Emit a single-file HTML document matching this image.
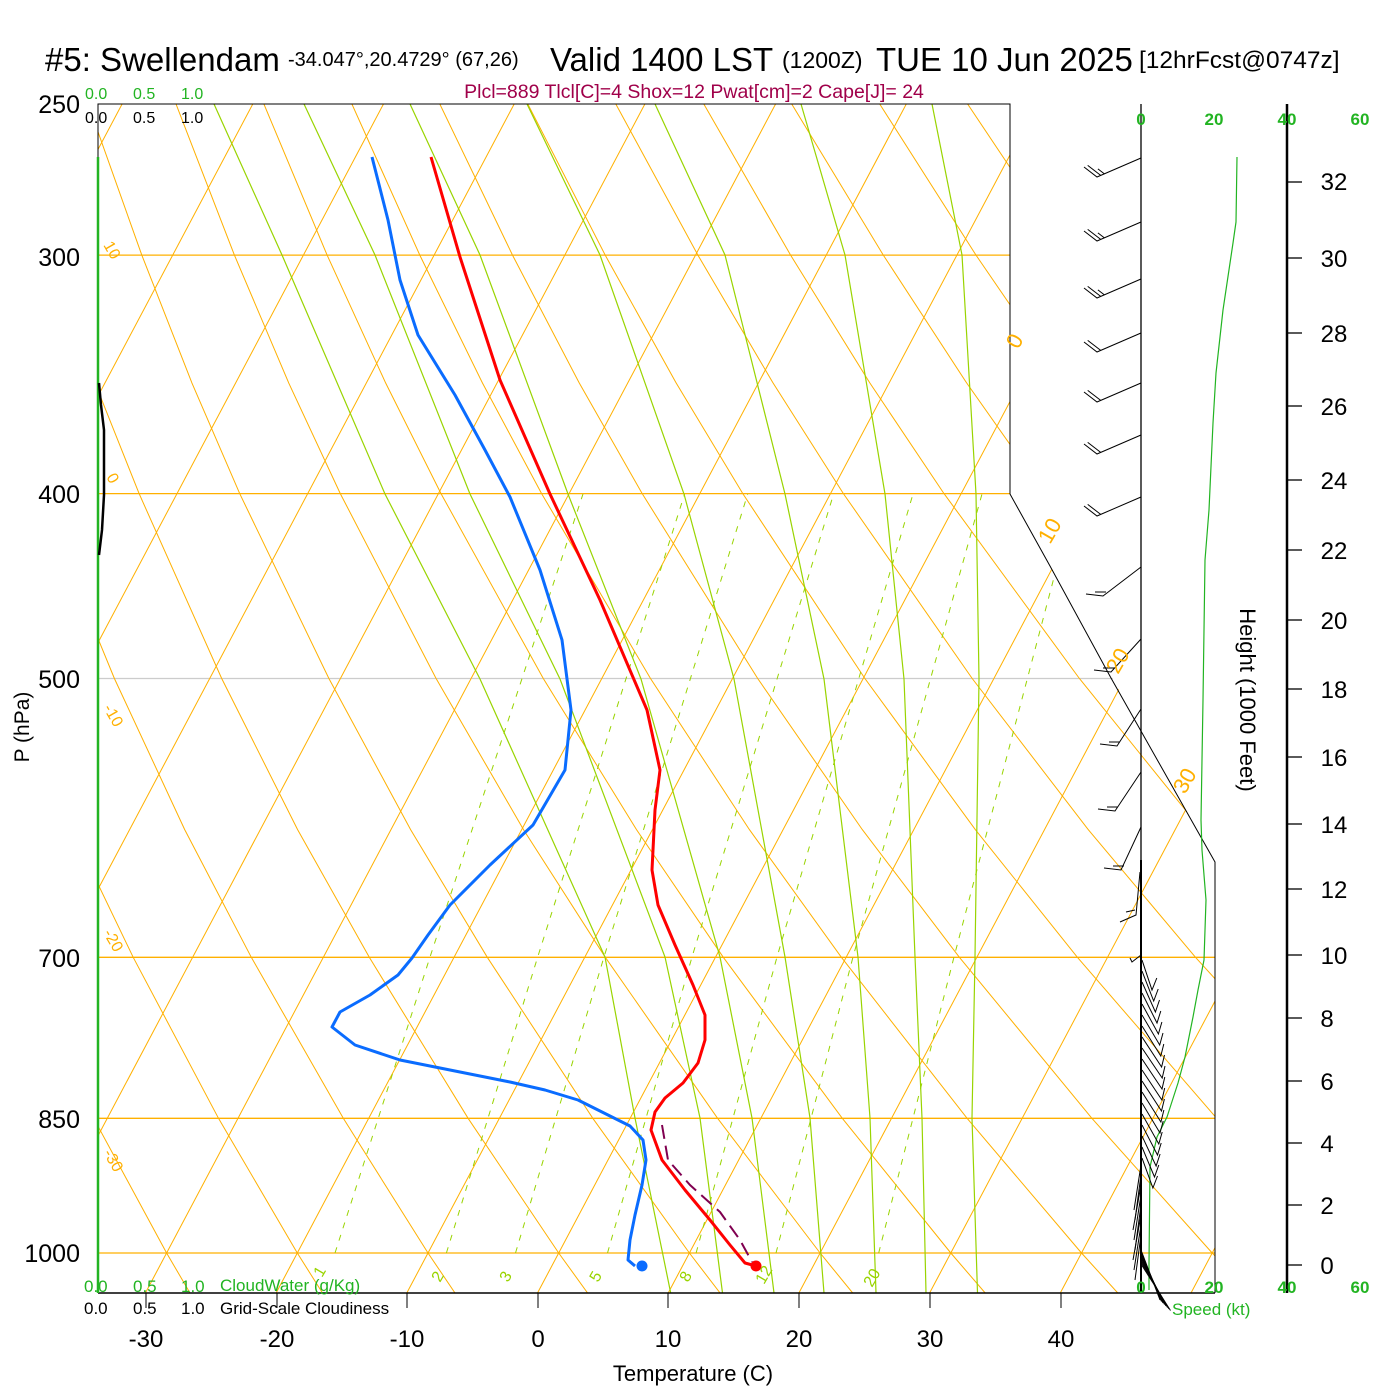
<!DOCTYPE html>
<html><head><meta charset="utf-8"><style>
html,body{margin:0;padding:0;background:#fff;}
svg{display:block;font-family:"Liberation Sans",sans-serif;}
</style></head><body>
<svg width="1400" height="1400" viewBox="0 0 1400 1400" xmlns="http://www.w3.org/2000/svg">
<defs>
<clipPath id="cp"><polygon points="98,104 1010,104 1010,494 1215,862 1215,1293 98,1293"/></clipPath>
<clipPath id="cpm"><polygon points="98,494 1010,494 1215,862 1215,1254 98,1254"/></clipPath>
</defs>
<g clip-path="url(#cp)" fill="none">
<g stroke-width="1.3">
<line x1="98" y1="255.1" x2="1215" y2="255.1" stroke="#ffb000"/>
<line x1="98" y1="493.6" x2="1215" y2="493.6" stroke="#ffb000"/>
<line x1="98" y1="678.5" x2="1215" y2="678.5" stroke="#cccccc"/>
<line x1="98" y1="957.3" x2="1215" y2="957.3" stroke="#ffb000"/>
<line x1="98" y1="1118.3" x2="1215" y2="1118.3" stroke="#ffb000"/>
<line x1="98" y1="1253" x2="1215" y2="1253" stroke="#ffb000"/>
</g>
<g stroke="#ffb000" stroke-width="1">
<line x1="-508.1" y1="1293" x2="122.1" y2="104"/>
<line x1="-377.4" y1="1293" x2="252.8" y2="104"/>
<line x1="-246.7" y1="1293" x2="383.5" y2="104"/>
<line x1="-116" y1="1293" x2="514.2" y2="104"/>
<line x1="14.7" y1="1293" x2="644.9" y2="104"/>
<line x1="145.4" y1="1293" x2="775.6" y2="104"/>
<line x1="276.1" y1="1293" x2="906.3" y2="104"/>
<line x1="406.8" y1="1293" x2="1037" y2="104"/>
<line x1="537.5" y1="1293" x2="1167.7" y2="104"/>
<line x1="668.2" y1="1293" x2="1298.4" y2="104"/>
<line x1="798.9" y1="1293" x2="1429.1" y2="104"/>
<line x1="929.6" y1="1293" x2="1559.8" y2="104"/>
<line x1="1060.3" y1="1293" x2="1690.5" y2="104"/>
<line x1="1191" y1="1293" x2="1821.2" y2="104"/>
</g>
<g stroke="#ffb000" stroke-width="1">
<polyline points="190,1293 166.6,1253 93.7,1118.3 15.2,957.3"/>
<polyline points="322.5,1293 297.3,1253 218.5,1118.3 133.2,957.3 71.8,829.6 7.2,678.5"/>
<polyline points="455,1293 428,1253 343.3,1118.3 251.3,957.3 184.7,829.6 114.4,678.5 38.5,493.6"/>
<polyline points="587.6,1293 558.7,1253 468.1,1118.3 369.3,957.3 297.6,829.6 221.7,678.5 139.1,493.6 95,382.9 49.1,255.1"/>
<polyline points="720.1,1293 689.4,1253 592.8,1118.3 487.3,957.3 410.6,829.6 328.9,678.5 239.7,493.6 191.9,382.9 141.8,255.1 88.1,104"/>
<polyline points="852.7,1293 820.1,1253 717.6,1118.3 605.3,957.3 523.5,829.6 436.1,678.5 340.3,493.6 288.7,382.9 234.4,255.1 176,104"/>
<polyline points="985.2,1293 950.8,1253 842.3,1118.3 723.3,957.3 636.5,829.6 543.3,678.5 441,493.6 385.6,382.9 327.1,255.1 263.9,104"/>
<polyline points="1117.8,1293 1081.5,1253 967.1,1118.3 841.4,957.3 749.4,829.6 650.5,678.5 541.6,493.6 482.4,382.9 419.8,255.1 351.9,104"/>
<polyline points="1250.3,1293 1212.2,1253 1091.9,1118.3 959.4,957.3 862.3,829.6 757.7,678.5 642.2,493.6 579.2,382.9 512.5,255.1 439.8,104"/>
<polyline points="1382.8,1293 1342.9,1253 1216.7,1118.3 1077.4,957.3 975.3,829.6 864.9,678.5 742.8,493.6 676.1,382.9 605.2,255.1 527.8,104"/>
<polyline points="1473.6,1253 1341.5,1118.3 1195.5,957.3 1088.2,829.6 972.2,678.5 843.4,493.6 773,382.9 697.9,255.1 615.8,104"/>
<polyline points="1313.5,957.3 1201.2,829.6 1079.4,678.5 944,493.6 869.8,382.9 790.6,255.1 703.8,104"/>
<polyline points="1314.1,829.6 1186.6,678.5 1044.6,493.6 966.6,382.9 883.3,255.1 791.7,104"/>
<polyline points="1293.9,678.5 1145.3,493.6 1063.5,382.9 976,255.1 879.7,104"/>
<polyline points="1245.9,493.6 1160.3,382.9 1068.7,255.1 967.6,104"/>
<polyline points="1257.1,382.9 1161.4,255.1 1055.6,104"/>
</g>
<g stroke="#99d400" stroke-width="1.2">
<polyline points="670.7,1293 635,1118 605,957 480,679 385,494 282,255 214,104"/>
<polyline points="722.5,1293 700,1118 665,957 560,679 470,494 375,255 304,104"/>
<polyline points="774,1293 752,1118 720,957 641,679 568,494 480,255 410,104"/>
<polyline points="824,1293 810,1118 785,957 734,679 684,494 600,255 527,104"/>
<polyline points="876,1293 870,1118 858,957 824,679 785,494 725,255 655,104"/>
<polyline points="926,1293 922,1118 915,957 904,679 885,494 845,255 801,104"/>
<polyline points="977.5,1293 972,1118 975,957 979,679 976,494 962,255 932,104"/>
</g>
</g>
<g clip-path="url(#cpm)" fill="none" stroke="#99d400" stroke-width="1" stroke-dasharray="6,7">
<polyline points="335,1253 430,957 583,494"/>
<polyline points="446.4,1253 537.7,957 684.6,494"/>
<polyline points="515.5,1253 604,957 747.7,494"/>
<polyline points="607.5,1253 692,957 833.6,494"/>
<polyline points="696.1,1253 777,957 913,494"/>
<polyline points="776,1253 853,957 982,494"/>
<polyline points="878.7,1253 954,957 1076,494"/>
</g>

<g stroke="#000" fill="none">
<polyline points="98,1293 98,104 1010,104 1010,494 1050,566 1111,678 1215,862 1215,1293" stroke-width="1"/>
<line x1="98" y1="1293" x2="1215" y2="1293" stroke-width="1.5"/>
<line x1="1141" y1="104" x2="1141" y2="1293" stroke-width="1.3"/>
<line x1="1287" y1="104" x2="1287" y2="1293" stroke-width="2.5"/>
<line x1="146" y1="1293" x2="146" y2="1308"/><line x1="277" y1="1293" x2="277" y2="1308"/>
<line x1="407" y1="1293" x2="407" y2="1308"/><line x1="538" y1="1293" x2="538" y2="1308"/>
<line x1="668" y1="1293" x2="668" y2="1308"/><line x1="799" y1="1293" x2="799" y2="1308"/>
<line x1="930" y1="1293" x2="930" y2="1308"/><line x1="1061" y1="1293" x2="1061" y2="1308"/>
</g>
<g stroke="#000" stroke-width="1.3">
<line x1="1287" y1="182" x2="1302" y2="182"/><line x1="1287" y1="258" x2="1302" y2="258"/>
<line x1="1287" y1="333" x2="1302" y2="333"/><line x1="1287" y1="406" x2="1302" y2="406"/>
<line x1="1287" y1="480" x2="1302" y2="480"/><line x1="1287" y1="550" x2="1302" y2="550"/>
<line x1="1287" y1="620" x2="1302" y2="620"/><line x1="1287" y1="689" x2="1302" y2="689"/>
<line x1="1287" y1="757" x2="1302" y2="757"/><line x1="1287" y1="824" x2="1302" y2="824"/>
<line x1="1287" y1="889" x2="1302" y2="889"/><line x1="1287" y1="955" x2="1302" y2="955"/>
<line x1="1287" y1="1018" x2="1302" y2="1018"/><line x1="1287" y1="1081" x2="1302" y2="1081"/>
<line x1="1287" y1="1143" x2="1302" y2="1143"/><line x1="1287" y1="1205" x2="1302" y2="1205"/>
<line x1="1287" y1="1265" x2="1302" y2="1265"/>
</g>
<line x1="98" y1="157" x2="98" y2="1293" stroke="#22b422" stroke-width="2.5"/>
<polyline points="99,383 101,405 104,430 104,495 102,530 99,555" fill="none" stroke="#000" stroke-width="2.5"/>

<g fill="none" stroke-linejoin="round">
<polyline points="1237,157 1236,222 1233,243 1223,310 1216,373 1213,423 1209,510 1205,560 1203,700 1201,820 1202,850 1206,900 1204,960 1198,990 1193,1017 1185,1057 1178,1083 1167,1117 1157,1137 1150,1167 1149,1263 1149,1290" stroke="#22b422" stroke-width="1.2"/>
<polyline points="662,1125 668,1160 690,1185 720,1212 740,1240 752,1262" stroke="#800050" stroke-width="2" stroke-dasharray="14,7"/>
<polyline points="431,157 460,257 500,380 550,494 600,600 647,710 660,770 655,810 652,870 658,905 675,945 693,985 705,1015 705,1040 698,1063 683,1083 665,1098 655,1112 651,1130 662,1160 685,1190 710,1220 730,1245 745,1263 756,1266" stroke="#ff0000" stroke-width="3"/>
<polyline points="372,157 388,220 400,280 418,335 455,395 485,450 510,497 540,570 562,640 571,710 565,770 533,825 490,865 450,905 428,935 412,958 398,975 370,995 340,1012 332,1027 355,1045 400,1060 440,1068 510,1082 545,1090 578,1100 608,1115 630,1126 643,1140 646,1160 642,1185 635,1215 630,1240 628,1260 635,1266" stroke="#0a6cff" stroke-width="3"/>
</g>
<circle cx="756" cy="1266" r="5.5" fill="#ff0000"/>
<circle cx="642" cy="1266" r="5.5" fill="#0a6cff"/>

<g stroke="#000" stroke-width="1" fill="none">
<polyline points="1141,158 1097,177 1084,167"/><line x1="1100.7" y1="175.4" x2="1087.7" y2="165.4"/><line x1="1104.4" y1="173.9" x2="1097.9" y2="168.9"/>
<polyline points="1141,222 1097,241 1084,231"/><line x1="1100.7" y1="239.4" x2="1087.7" y2="229.4"/><line x1="1104.4" y1="237.9" x2="1097.9" y2="232.9"/>
<polyline points="1141,279 1097,298 1084,288"/><line x1="1100.7" y1="296.4" x2="1087.7" y2="286.4"/><line x1="1104.4" y1="294.9" x2="1097.9" y2="289.9"/>
<polyline points="1141,333 1097,352 1084,342"/><line x1="1100.7" y1="350.4" x2="1087.7" y2="340.4"/>
<polyline points="1141,383 1097,402 1084,392"/><line x1="1100.7" y1="400.4" x2="1087.7" y2="390.4"/>
<polyline points="1141,435 1097,454 1084,444"/><line x1="1100.7" y1="452.4" x2="1087.7" y2="442.4"/>
<polyline points="1141,497 1097,516 1084,506"/><line x1="1100.7" y1="514.4" x2="1087.7" y2="504.4"/>
<polyline points="1141,567 1103,596 1086,594"/><line x1="1106" y1="592" x2="1095" y2="592"/>
<polyline points="1141,639 1111,672 1094,670"/><line x1="1114" y1="668" x2="1103" y2="668"/>
<polyline points="1141,709 1117,746 1100,744"/><line x1="1120" y1="742" x2="1109" y2="742"/>
<polyline points="1141,772 1115,811 1098,809"/><line x1="1118" y1="807" x2="1107" y2="807"/>
<polyline points="1141,827 1121,870 1104,868"/><line x1="1124" y1="866" x2="1113" y2="866"/>
<polyline points="1140,872 1136,915 1120,922"/><line x1="1135" y1="910" x2="1126" y2="912"/>
<polyline points="1141,955 1132,962 1130,958"/>
<polyline points="1142,960 1152,990 1156.8,978"/>
<polyline points="1142,971 1153.7,1001 1158.2,989"/>
<polyline points="1142,982 1155.4,1012 1159.5,1000"/>
<polyline points="1142,993 1157,1023 1160.8,1011"/>
<polyline points="1142,1004 1158.4,1034 1161.9,1022"/>
<polyline points="1142,1015 1159.7,1045 1163,1033"/>
<polyline points="1142,1026 1160.8,1056 1163.8,1044"/>
<polyline points="1142,1037 1161.6,1067 1164.5,1055"/>
<polyline points="1142,1048 1162.2,1078 1165,1066"/>
<polyline points="1142,1059 1162,1089 1164.8,1077"/>
<polyline points="1142,1070 1161.9,1100 1164.7,1088"/>
<polyline points="1142,1081 1161.5,1111 1164.4,1099"/>
<polyline points="1142,1092 1160.9,1122 1163.9,1110"/>
<polyline points="1142,1103 1160,1133 1163.2,1121"/>
<polyline points="1142,1114 1158.8,1144 1162.2,1132"/>
<polyline points="1142,1125 1157.5,1155 1161.2,1143"/>
<polyline points="1142,1136 1156.1,1166 1160.1,1154"/>
<polyline points="1142,1147 1154.5,1177 1158.8,1165"/>
<polyline points="1142,1158 1152.9,1188 1157.5,1176"/>
<line x1="1141" y1="1165" x2="1134" y2="1210"/><line x1="1141" y1="1175" x2="1135" y2="1220"/>
<line x1="1141" y1="1185" x2="1133" y2="1230"/><line x1="1141" y1="1195" x2="1134" y2="1240"/>
<line x1="1141" y1="1205" x2="1135" y2="1250"/><line x1="1141" y1="1215" x2="1133" y2="1260"/>
<line x1="1141" y1="1225" x2="1134" y2="1270"/><line x1="1141" y1="1235" x2="1135" y2="1280"/>
<line x1="1141" y1="1250" x2="1160" y2="1300"/><line x1="1141" y1="1252" x2="1161.5" y2="1301.5"/>
<line x1="1141" y1="1254" x2="1163" y2="1303"/><line x1="1141" y1="1256" x2="1164.5" y2="1304.5"/>
<line x1="1141" y1="1258" x2="1166" y2="1306"/><line x1="1141" y1="1260" x2="1167.5" y2="1307.5"/>
<line x1="1141" y1="1262" x2="1169" y2="1309"/><line x1="1141" y1="1264" x2="1170.5" y2="1310.5"/>
<line x1="1141" y1="860" x2="1141" y2="1293" stroke-width="2"/>
</g>

<text x="45" y="71" font-size="33">#5: Swellendam</text>
<text x="288" y="66" font-size="20">-34.047°,20.4729° (67,26)</text>
<text x="550" y="71" font-size="33">Valid 1400 LST</text>
<text x="782" y="68" font-size="23">(1200Z)</text>
<text x="876" y="71" font-size="33">TUE 10 Jun 2025</text>
<text x="1139" y="68" font-size="24.5">[12hrFcst@0747z]</text>
<text x="694" y="98" font-size="19.5" fill="#a0004a" text-anchor="middle">Plcl=889 Tlcl[C]=4 Shox=12 Pwat[cm]=2 Cape[J]= 24</text>

<g font-size="16" fill="#22b422"><text x="85" y="99">0.0</text><text x="133" y="99">0.5</text><text x="181" y="99">1.0</text></g>
<g font-size="16" fill="#000"><text x="85" y="123">0.0</text><text x="133" y="123">0.5</text><text x="181" y="123">1.0</text></g>
<g font-size="17" fill="#22b422"><text x="84" y="1292">0.0</text><text x="133" y="1292">0.5</text><text x="181" y="1292">1.0</text><text x="220" y="1291">CloudWater (g/Kg)</text></g>
<g font-size="17" fill="#000"><text x="84" y="1314">0.0</text><text x="133" y="1314">0.5</text><text x="181" y="1314">1.0</text><text x="220" y="1314">Grid-Scale Cloudiness</text></g>

<g font-size="25" text-anchor="end">
<text x="80" y="113">250</text><text x="80" y="266">300</text><text x="80" y="503">400</text>
<text x="80" y="688">500</text><text x="80" y="967">700</text><text x="80" y="1128">850</text><text x="80" y="1262">1000</text>
</g>
<text transform="translate(29,727) rotate(-90)" font-size="21" text-anchor="middle">P (hPa)</text>
<g font-size="24" text-anchor="middle">
<text x="146" y="1347">-30</text><text x="277" y="1347">-20</text><text x="407" y="1347">-10</text><text x="538" y="1347">0</text>
<text x="668" y="1347">10</text><text x="799" y="1347">20</text><text x="930" y="1347">30</text><text x="1061" y="1347">40</text>
</g>
<text x="693" y="1381" font-size="22" text-anchor="middle">Temperature (C)</text>

<g font-size="17" fill="#22b422" font-weight="bold" text-anchor="middle">
<text x="1141" y="125">0</text><text x="1214" y="125">20</text><text x="1287" y="125">40</text><text x="1360" y="125">60</text>
<text x="1141" y="1293">0</text><text x="1214" y="1293">20</text><text x="1287" y="1293">40</text><text x="1360" y="1293">60</text>
</g>
<text x="1172" y="1315" font-size="17" fill="#22b422">Speed (kt)</text>
<text transform="translate(1240,700) rotate(90)" font-size="22" text-anchor="middle">Height (1000 Feet)</text>
<g font-size="24" text-anchor="middle">
<text x="1334" y="190">32</text><text x="1334" y="267">30</text><text x="1334" y="342">28</text><text x="1334" y="415">26</text>
<text x="1334" y="489">24</text><text x="1334" y="559">22</text><text x="1334" y="629">20</text><text x="1334" y="698">18</text>
<text x="1334" y="766">16</text><text x="1334" y="833">14</text><text x="1334" y="898">12</text><text x="1334" y="964">10</text>
<text x="1327" y="1027">8</text><text x="1327" y="1090">6</text><text x="1327" y="1152">4</text><text x="1327" y="1214">2</text><text x="1327" y="1274">0</text>
</g>

<g font-size="22" fill="#ffb000">
<text transform="translate(1018,350) rotate(-60)">0</text>
<text transform="translate(1050,545) rotate(-60)">10</text>
<text transform="translate(1118,675) rotate(-60)">20</text>
<text transform="translate(1185,795) rotate(-60)">30</text>
</g>
<g font-size="16" fill="#ffb000">
<text transform="translate(103,245) rotate(60)">10</text>
<text transform="translate(106,477) rotate(60)">0</text>
<text transform="translate(103,708) rotate(60)">-10</text>
<text transform="translate(103,933) rotate(60)">-20</text>
<text transform="translate(103,1153) rotate(60)">-30</text>
</g>
<g font-size="16" fill="#99d400">
<text transform="translate(322,1278) rotate(-60)">1</text>
<text transform="translate(440,1283) rotate(-60)">2</text>
<text transform="translate(508,1283) rotate(-60)">3</text>
<text transform="translate(598,1283) rotate(-60)">5</text>
<text transform="translate(688,1283) rotate(-60)">8</text>
<text transform="translate(764,1285) rotate(-60)">12</text>
<text transform="translate(872,1288) rotate(-60)">20</text>
</g>
</svg>
</body></html>
